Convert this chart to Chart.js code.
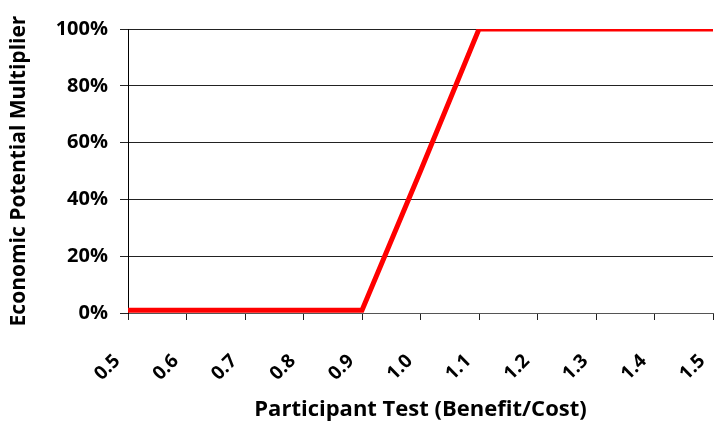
<!DOCTYPE html>
<html>
<head>
<meta charset="utf-8">
<script src="https://cdn.jsdelivr.net/npm/chart.js@4"></script>
<style>
  html, body { margin: 0; padding: 0; background: #fff; }
  #wrap { width: 715px; height: 425px; }
</style>
</head>
<body>
<div id="wrap"><canvas id="chart"></canvas></div>
<script>
// Participant test ratio (categories) and multiplier (%)
const ratioLabels = ['0.5', '0.6', '0.7', '0.8', '0.9', '1.0', '1.1', '1.2', '1.3', '1.4', '1.5'];
const multiplier = [1, 1, 1, 1, 1, 50, 100, 100, 100, 100, 100];
const yTicks = [0, 20, 40, 60, 80, 100];

const FONT = "'Open Sans', 'Liberation Sans', sans-serif";

new Chart(document.getElementById('chart'), {
  type: 'line',
  data: {
    labels: ratioLabels,
    datasets: [{
      data: multiplier,
      borderColor: '#ff0000',
      borderWidth: 5,
      pointRadius: 0,
      tension: 0,
      fill: false
    }]
  },
  options: {
    responsive: true,
    maintainAspectRatio: false,
    animation: false,
    layout: { padding: { top: 29, right: 2, bottom: 0, left: 0 } },
    plugins: { legend: { display: false }, tooltip: { enabled: false } },
    scales: {
      x: {
        type: 'category',
        offset: false,
        grid: {
          display: true,
          drawOnChartArea: false,
          drawTicks: true,
          tickLength: 7,
          color: '#222'
        },
        border: { display: true, color: '#555', width: 1 },
        ticks: {
          autoSkip: false,
          minRotation: 45,
          maxRotation: 45,
          padding: 30,
          labelOffset: -11,
          color: '#000',
          font: { family: FONT, size: 19, weight: 'bold' }
        },
        title: {
          display: true,
          text: 'Participant Test (Benefit/Cost)',
          color: '#000',
          font: { family: FONT, size: 22, weight: 'bold' },
          padding: { top: 10, bottom: 2 }
        },
        afterFit: (scale) => {
          scale.height = 112;
          scale.paddingLeft = 0;
          scale.paddingRight = 0;
        }
      },
      y: {
        min: 0,
        max: 100,
        afterBuildTicks: (scale) => { scale.ticks = yTicks.map(v => ({ value: v })); },
        grid: {
          color: '#222',
          lineWidth: 1,
          tickLength: 8
        },
        border: { display: true, color: '#000', width: 1 },
        ticks: {
          padding: 12,
          color: '#000',
          font: { family: FONT, size: 20, weight: 'bold' },
          callback: (v) => v + '%'
        },
        title: {
          display: true,
          text: 'Economic Potential Multiplier',
          color: '#000',
          font: { family: FONT, size: 21, weight: 'bold' },
          padding: { top: 6, bottom: 4 }
        },
        afterFit: (scale) => { scale.width = 128; }
      }
    }
  }
});
</script>
</body>
</html>
